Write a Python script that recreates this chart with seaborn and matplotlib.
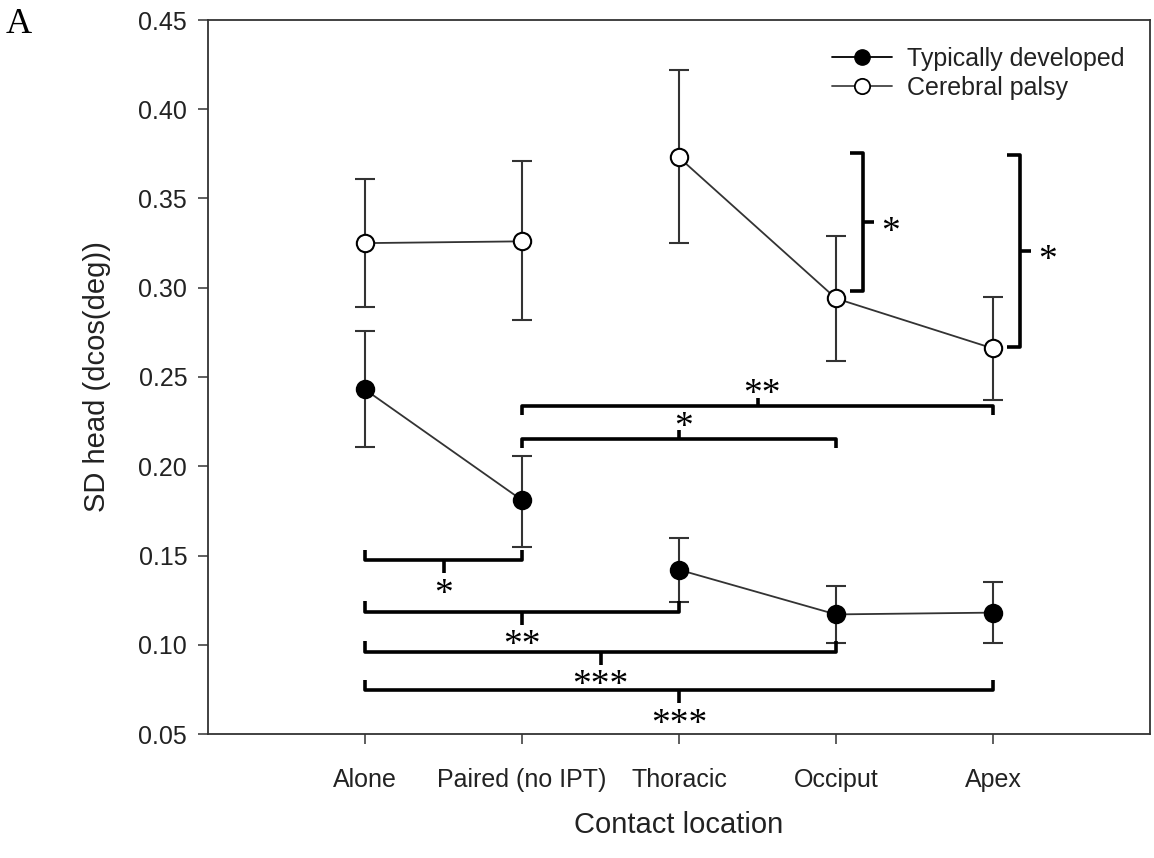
import numpy as np
import pandas as pd
import matplotlib
matplotlib.use("Agg")
import matplotlib.pyplot as plt
import seaborn as sns
from matplotlib.lines import Line2D

# ---------- Data ----------
locations = ["Alone", "Paired (no IPT)", "Thoracic", "Occiput", "Apex"]
segments = [0, 0, 1, 1, 1]  # line is broken between Paired and Thoracic

td_mean = [0.243, 0.181, 0.142, 0.117, 0.118]
td_low = [0.211, 0.155, 0.124, 0.101, 0.101]
td_high = [0.276, 0.206, 0.160, 0.133, 0.135]

cp_mean = [0.325, 0.326, 0.373, 0.294, 0.266]
cp_low = [0.289, 0.282, 0.325, 0.259, 0.237]
cp_high = [0.361, 0.371, 0.422, 0.329, 0.295]

# horizontal significance brackets: (from, to, level, label)
low_brackets = [
    ("Alone", "Paired (no IPT)", 0.1473, "*"),
    ("Alone", "Thoracic", 0.1183, "**"),
    ("Alone", "Occiput", 0.0960, "***"),
    ("Alone", "Apex", 0.0745, "***"),
]
high_brackets = [
    ("Paired (no IPT)", "Apex", 0.2335, "**"),
    ("Paired (no IPT)", "Occiput", 0.2152, "*"),
]
# vertical brackets for group differences: (location, bottom, top, label)
side_brackets = [
    ("Occiput", 0.2979, 0.3754, "*"),
    ("Apex", 0.2667, 0.3744, "*"),
]

pos = {name: i + 1 for i, name in enumerate(locations)}

df = pd.concat([
    pd.DataFrame({"location": locations, "x": [pos[l] for l in locations], "seg": segments,
                  "mean": td_mean, "low": td_low, "high": td_high, "group": "Typically developed"}),
    pd.DataFrame({"location": locations, "x": [pos[l] for l in locations], "seg": segments,
                  "mean": cp_mean, "low": cp_low, "high": cp_high, "group": "Cerebral palsy"}),
], ignore_index=True)

# ---------- Style ----------
sns.set_style("ticks")
plt.rcParams["font.family"] = ["Liberation Sans", "DejaVu Sans"]
dark = "#222222"
line_col = "#333333"

fig = plt.figure(figsize=(11.54, 8.58), dpi=100)
ax = fig.add_axes([208 / 1154, 1 - 734 / 858, 942 / 1154, 714 / 858])

fills = {"Typically developed": "black", "Cerebral palsy": "white"}

for grp, sub in df.groupby("group", sort=False):
    ax.errorbar(sub["x"], sub["mean"],
                yerr=[sub["mean"] - sub["low"], sub["high"] - sub["mean"]],
                fmt="none", ecolor=line_col, elinewidth=1.5, capsize=7.2, capthick=1.5, zorder=2)
    sns.lineplot(data=sub, x="x", y="mean", units="seg", estimator=None, ax=ax,
                 color=line_col, linewidth=1.3, marker="o", markersize=12.5,
                 markerfacecolor=fills[grp], markeredgecolor="black", markeredgewidth=1.5,
                 legend=False, zorder=3)

# ---------- Significance brackets ----------
bk = dict(color="black", linewidth=2.6, solid_joinstyle="round", solid_capstyle="butt",
          zorder=4, clip_on=False)
star_fs = 27


def star(x, y, lab):
    # put the glyph centre of the serif asterisk at (x, y)
    ax.annotate(lab, xy=(x, y), xytext=(0, -0.48 * star_fs), textcoords="offset points",
                family="Liberation Serif", fontsize=star_fs, color="black",
                ha="center", va="baseline")


for a, b, y, lab in low_brackets:
    x1, x2 = pos[a], pos[b]
    xm = (x1 + x2) / 2
    ax.plot([x1, x1, x2, x2], [y + 0.006, y, y, y + 0.006], **bk)
    ax.plot([xm, xm], [y, y - 0.0072], **bk)
    star(xm, y - 0.0142, lab)

for a, b, y, lab in high_brackets:
    x1, x2 = pos[a], pos[b]
    xm = (x1 + x2) / 2
    ax.plot([x1, x1, x2, x2], [y - 0.0047, y, y, y - 0.0047], **bk)
    ax.plot([xm, xm], [y, y + 0.005], **bk)
    star(xm + 0.03, y + 0.0114, lab)

for loc, y1, y2, lab in side_brackets:
    xs = pos[loc] + 0.17
    ym = (y1 + y2) / 2
    ax.plot([xs - 0.08, xs, xs, xs - 0.08], [y1, y1, y2, y2], **bk)
    ax.plot([xs, xs + 0.075], [ym, ym], **bk)
    star(xs + 0.175, ym - 0.0008, lab)

# ---------- Axes ----------
ax.set_xlim(0, 6)
ax.set_ylim(0.05, 0.45)
ax.set_xticks(list(pos.values()))
ax.set_xticklabels(locations)
ax.set_yticks(np.arange(0.05, 0.451, 0.05))
ax.set_yticklabels([f"{v:.2f}" for v in np.arange(0.05, 0.451, 0.05)])
ax.tick_params(axis="both", direction="out", length=7, width=1.1, color=line_col,
               labelsize=18, labelcolor=dark)
ax.tick_params(axis="y", pad=8)
ax.tick_params(axis="x", pad=17.5)
for side in ["left", "right", "top", "bottom"]:
    ax.spines[side].set_visible(True)
    ax.spines[side].set_color(line_col)
    ax.spines[side].set_linewidth(1.3)

ax.set_xlabel("Contact location", fontsize=21, color=dark)
ax.set_ylabel("SD head (dcos(deg))", fontsize=21, color=dark)
ax.xaxis.set_label_coords(0.5, -0.108)
ax.yaxis.set_label_coords(-0.103, 0.5)

handles = [
    Line2D([], [], color="black", linewidth=1.3, marker="o", markersize=11,
           markerfacecolor="black", markeredgecolor="black"),
    Line2D([], [], color="#444444", linewidth=1.3, marker="o", markersize=11,
           markerfacecolor="white", markeredgecolor="black", markeredgewidth=1.3),
]
ax.legend(handles, ["Typically developed", "Cerebral palsy"], loc="upper left",
          bbox_to_anchor=(0.662, 0.962), frameon=False, fontsize=18,
          handlelength=2.4, handletextpad=0.6, labelspacing=0.2,
          borderpad=0, borderaxespad=0, labelcolor=dark)

fig.text(6 / 1154, 1 - 33 / 858, "A", family="Liberation Serif", fontsize=26, color="black")

fig.savefig("out.png", dpi=100)
